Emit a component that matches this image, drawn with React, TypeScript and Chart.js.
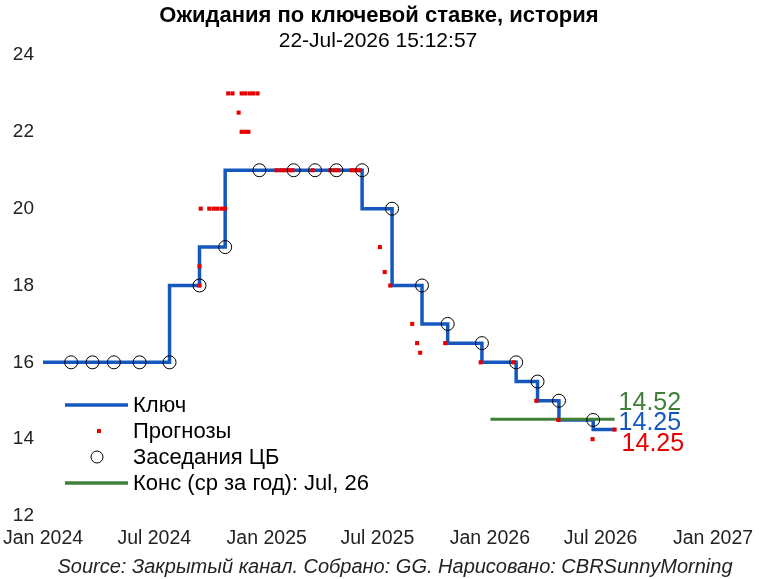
import React, { useEffect, useRef } from "react";
import { Chart, registerables } from "chart.js";

Chart.register(...registerables);

const FONT = "Arial, 'Liberation Sans', Helvetica, sans-serif";

const tickDates = ["2024-01-01", "2024-07-01", "2025-01-01", "2025-07-01", "2026-01-01", "2026-07-01", "2027-01-01"];
const tickLabels = ["Jan 2024", "Jul 2024", "Jan 2025", "Jul 2025", "Jan 2026", "Jul 2026", "Jan 2027"];

// ключевая ставка: дата изменения и новое значение
const keyDates = ["2024-01-01", "2024-07-26", "2024-09-13", "2024-10-25", "2025-06-06", "2025-07-25", "2025-09-12", "2025-10-24", "2025-12-19", "2026-02-13", "2026-03-20", "2026-04-24", "2026-06-19", "2026-07-24"];
const keyRates = [16, 18, 19, 21, 20, 18, 17, 16.5, 16, 15.5, 15, 14.5, 14.25, 14.25];

// заседания ЦБ (ставка до решения)
const meetingDates = ["2024-02-16", "2024-03-22", "2024-04-26", "2024-06-07", "2024-07-26", "2024-09-13", "2024-10-25", "2024-12-20", "2025-02-14", "2025-03-21", "2025-04-25", "2025-06-06", "2025-07-25", "2025-09-12", "2025-10-24", "2025-12-19", "2026-02-13", "2026-03-20", "2026-04-24", "2026-06-19"];
const meetingRates = [16, 16, 16, 16, 16, 18, 19, 21, 21, 21, 21, 21, 20, 18, 17, 16.5, 16, 15.5, 15, 14.5];

// прогнозы
const forecastDates = [
  "2024-09-13", "2024-09-13",
  "2024-09-15", "2024-09-29", "2024-10-06", "2024-10-12", "2024-10-19", "2024-10-25",
  "2024-10-30", "2024-11-06", "2024-11-21", "2024-11-27", "2024-12-04", "2024-12-10", "2024-12-17",
  "2024-11-16",
  "2024-11-21", "2024-11-27", "2024-12-02",
  "2025-01-17", "2025-01-24", "2025-01-30", "2025-02-06", "2025-02-12", "2025-03-17",
  "2025-04-15", "2025-04-22", "2025-04-28", "2025-05-20", "2025-05-26", "2025-06-02",
  "2025-07-05", "2025-07-13", "2025-07-22",
  "2025-08-27", "2025-09-04", "2025-09-09",
  "2025-10-20", "2025-12-17", "2026-02-09", "2026-03-18", "2026-04-23", "2026-06-18", "2026-07-24",
];
const forecastRates = [
  18.5, 18,
  20, 20, 20, 20, 20, 20,
  23, 23, 23, 23, 23, 23, 23,
  22.5,
  22, 22, 22,
  21, 21, 21, 21, 21, 21,
  21, 21, 21, 21, 21, 21,
  19, 18.35, 18,
  17, 16.5, 16.25,
  16.5, 16, 16, 15, 14.5, 14, 14.25,
];

// консенсус
const consDates = ["2026-01-02", "2026-07-24"];
const consRates = [14.52, 14.52];

const seriesNames = ["Ключ", "Прогнозы", "Заседания ЦБ", "Конс (ср за год): Jul, 26"];

const BLUE = "#1458bd";
const RED = "#e60000";
const GREEN = "#3f7f3a";

const day = (s: string) => (Date.parse(s + "T00:00:00Z") - Date.parse("2024-01-01T00:00:00Z")) / 86400000;
const pts = (d: string[], v: number[]) => d.map((s, i) => ({ x: day(s), y: v[i] }));

const decor = {
  id: "decor",
  afterDraw(chart: Chart) {
    const { ctx, scales } = chart;
    const xs = scales.x;
    const ys = scales.y;
    ctx.save();
    ctx.fillStyle = "#000";
    ctx.textAlign = "center";
    ctx.textBaseline = "middle";
    ctx.font = `bold 22px ${FONT}`;
    ctx.fillText("Ожидания по ключевой ставке, история", 379, 16);
    ctx.font = `21px ${FONT}`;
    ctx.fillText("22-Jul-2026 15:12:57", 378, 41);
    ctx.font = `italic 20px ${FONT}`;
    ctx.fillStyle = "#222";
    ctx.fillText("Source: Закрытый канал. Собрано: GG. Нарисовано: CBRSunnyMorning", 395, 567);

    // легенда
    const rows = [405, 431, 457, 483];
    ctx.textAlign = "left";
    ctx.font = `22px ${FONT}`;
    rows.forEach((ry, i) => {
      if (i === 0 || i === 3) {
        ctx.strokeStyle = i === 0 ? BLUE : GREEN;
        ctx.lineWidth = 3.5;
        ctx.beginPath();
        ctx.moveTo(65, ry);
        ctx.lineTo(128, ry);
        ctx.stroke();
      } else if (i === 1) {
        ctx.fillStyle = RED;
        ctx.fillRect(97, ry - 2, 4, 4);
      } else {
        ctx.strokeStyle = "#000";
        ctx.lineWidth = 1;
        ctx.beginPath();
        ctx.arc(97, ry, 6, 0, Math.PI * 2);
        ctx.stroke();
      }
      ctx.fillStyle = "#000";
      ctx.fillText(seriesNames[i], 133, ry + 1);
    });

    // подписи последних значений
    ctx.font = `25px ${FONT}`;
    const endX = xs.getPixelForValue(day(consDates[1])) + 4;
    ctx.fillStyle = GREEN;
    ctx.textBaseline = "alphabetic";
    ctx.fillText(consRates[1].toFixed(2), endX, ys.getPixelForValue(consRates[1]) - 9);
    ctx.fillStyle = BLUE;
    ctx.fillText(keyRates[keyRates.length - 1].toFixed(2), endX, ys.getPixelForValue(keyRates[keyRates.length - 1]));
    ctx.fillStyle = RED;
    ctx.fillText(forecastRates[forecastRates.length - 1].toFixed(2), endX + 3, ys.getPixelForValue(forecastRates[forecastRates.length - 1]) + 21);
    ctx.restore();
  },
};

const App: React.FC = () => {
  const canvasRef = useRef<HTMLCanvasElement | null>(null);
  const chartRef = useRef<Chart | null>(null);

  useEffect(() => {
    if (!canvasRef.current) return;
    if (chartRef.current) chartRef.current.destroy();

    const tickValues = tickDates.map(day);

    chartRef.current = new Chart(canvasRef.current, {
      type: "scatter",
      data: {
        datasets: [
          {
            label: seriesNames[2],
            data: pts(meetingDates, meetingRates),
            pointStyle: "circle",
            pointRadius: 6.5,
            borderColor: "#000",
            borderWidth: 1,
            backgroundColor: "rgba(0,0,0,0)",
            order: 0,
          },
          {
            label: seriesNames[1],
            data: pts(forecastDates, forecastRates),
            pointStyle: "rect",
            pointRadius: 2.9,
            borderWidth: 0,
            backgroundColor: RED,
            order: 1,
          },
          {
            label: seriesNames[3],
            type: "line",
            data: pts(consDates, consRates),
            borderColor: GREEN,
            borderWidth: 3,
            pointRadius: 0,
            order: 2,
          },
          {
            label: seriesNames[0],
            type: "line",
            data: pts(keyDates, keyRates),
            stepped: "before",
            borderColor: BLUE,
            borderWidth: 3.5,
            pointRadius: 0,
            order: 3,
          },
        ],
      },
      options: {
        responsive: false,
        animation: false,
        layout: { padding: { top: 55, right: 46, bottom: 33, left: 0 } },
        plugins: {
          legend: { display: false },
          tooltip: { enabled: false },
        },
        scales: {
          x: {
            type: "linear",
            min: tickValues[0],
            max: tickValues[tickValues.length - 1],
            grid: { display: false, drawTicks: false },
            border: { display: false },
            afterBuildTicks: (s: any) => {
              s.ticks = tickValues.map((v) => ({ value: v }));
            },
            afterFit: (s: any) => {
              s.height = 30;
              s.paddingLeft = 0;
              s.paddingRight = 0;
            },
            ticks: {
              autoSkip: false,
              maxRotation: 0,
              padding: 11,
              color: "#222",
              font: { family: FONT, size: 19.5 },
              callback: (v: any) => tickLabels[tickValues.indexOf(Number(v))] ?? "",
            },
          },
          y: {
            min: 12,
            max: 24,
            grid: { display: false, drawTicks: false },
            border: { display: false },
            afterFit: (s: any) => {
              s.width = 43;
            },
            ticks: {
              stepSize: 2,
              padding: 9,
              color: "#222",
              font: { family: FONT, size: 19 },
            },
          },
        },
      },
      plugins: [decor],
    });

    return () => {
      chartRef.current?.destroy();
    };
  }, []);

  return (
    <div style={{ position: "fixed", left: 0, top: 0, width: 759, height: 579, background: "#fff" }}>
      <canvas ref={canvasRef} width={759} height={579} />
    </div>
  );
};

export default App;
